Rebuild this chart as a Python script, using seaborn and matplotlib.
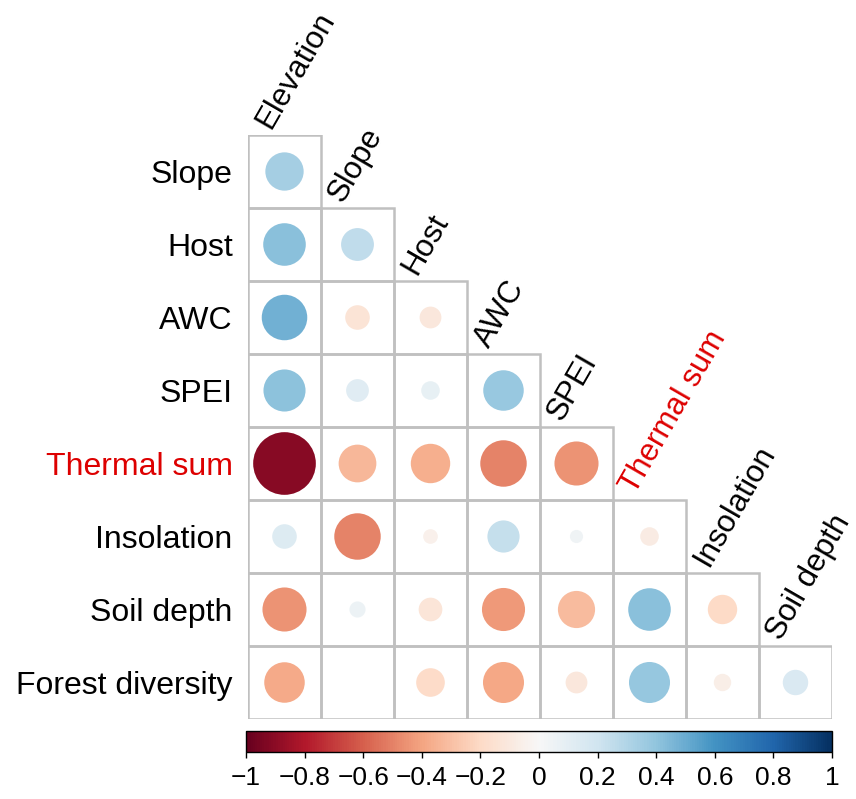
''' Lower-triangle correlation plot (corrplot style) '''

import matplotlib
matplotlib.use("Agg")
import matplotlib.pyplot as plt
from matplotlib import font_manager
from matplotlib.patches import Rectangle
import numpy as np
import pandas as pd
import seaborn as sns

rows = ["Slope", "Host", "AWC", "SPEI", "Thermal sum", "Insolation",
        "Soil depth", "Forest diversity"]
cols = ["Elevation", "Slope", "Host", "AWC", "SPEI", "Thermal sum",
        "Insolation", "Soil depth"]

# correlations, one list per row (lower triangle)
slope_r = [0.34]
host_r = [0.42, 0.25]
awc_r = [0.48, -0.14, -0.11]
spei_r = [0.41, 0.12, 0.08, 0.38]
thermal_r = [-0.91, -0.33, -0.36, -0.50, -0.45]
insol_r = [0.14, -0.50, -0.05, 0.24, 0.04, -0.08]
soil_r = [-0.45, 0.06, -0.13, -0.43, -0.32, 0.42, -0.20]
forest_r = [-0.38, 0.0, -0.19, -0.39, -0.11, 0.39, -0.07, 0.15]

highlight = "Thermal sum"
cbar_ticks = [-1, -0.8, -0.6, -0.4, -0.2, 0, 0.2, 0.4, 0.6, 0.8, 1]

all_r = [slope_r, host_r, awc_r, spei_r, thermal_r, insol_r, soil_r, forest_r]
records = []
for i, vals in enumerate(all_r):
    for j, r in enumerate(vals):
        records.append({"row": i, "col": j, "x": j + 0.5, "y": i + 0.5,
                        "r": r, "absr": abs(r)})
df = pd.DataFrame(records)

plt.rcParams["font.family"] = ["Liberation Sans", "DejaVu Sans"]
installed = {f.name for f in font_manager.fontManager.ttflist}
if "Liberation Sans Narrow" in installed:
    tick_font, tick_size = "Liberation Sans Narrow", 21
else:
    tick_font, tick_size = "Liberation Sans", 19

W, H = 856, 799
fig = plt.figure(figsize=(W / 100, H / 100), dpi=100)

# main grid: 8 x 8 cells, 73 px each
gx0, gx1, gy0, gy1 = 248, 832, 135, 719
ax = fig.add_axes([gx0 / W, 1 - gy1 / H, (gx1 - gx0) / W, (gy1 - gy0) / H])
ax.set_xlim(0, 8)
ax.set_ylim(8, 0)

cell_pt = (gx1 - gx0) / 8 * 72 / 100
max_area = (0.9 * cell_pt) ** 2

for _, c in df.iterrows():
    ax.add_patch(Rectangle((c["col"], c["row"]), 1, 1, fill=False,
                           edgecolor="#c0c0c0", lw=1.8, zorder=1))

sns.scatterplot(data=df, x="x", y="y", hue="r", size="absr",
                palette="RdBu", hue_norm=(-1, 1),
                sizes=(0, max_area), size_norm=(0, 1),
                linewidth=0, legend=False, ax=ax, zorder=2)

ax.set_xlabel("")
ax.set_ylabel("")
ax.set_xticks([])
ax.set_yticks(np.arange(len(rows)) + 0.5)
ax.set_yticklabels(rows, fontsize=23)
ax.tick_params(axis="y", length=0, pad=11)
for lab in ax.get_yticklabels():
    if lab.get_text() == highlight:
        lab.set_color("#dd0000")
for s in ax.spines.values():
    s.set_visible(False)

for j, name in enumerate(cols):
    ax.text(j + 0.30, j - 0.065, name, rotation=60, ha="left", va="baseline",
            rotation_mode="anchor", fontsize=22.5, clip_on=False,
            color="#dd0000" if name == highlight else "black")

# colour bar
cax = fig.add_axes([246 / W, 1 - 752 / H, 586 / W, 21 / H])
sm = plt.cm.ScalarMappable(cmap="RdBu", norm=plt.Normalize(-1, 1))
cb = fig.colorbar(sm, cax=cax, orientation="horizontal", ticks=cbar_ticks)
cb.set_ticklabels([f"{t:g}".replace("-", "\u2212") for t in cbar_ticks])
cb.outline.set_linewidth(1.0)
cax.tick_params(length=4, width=1, labelsize=tick_size, pad=6)
for lab in cax.get_xticklabels():
    lab.set_fontfamily(tick_font)

fig.savefig("out.png", dpi=100)
